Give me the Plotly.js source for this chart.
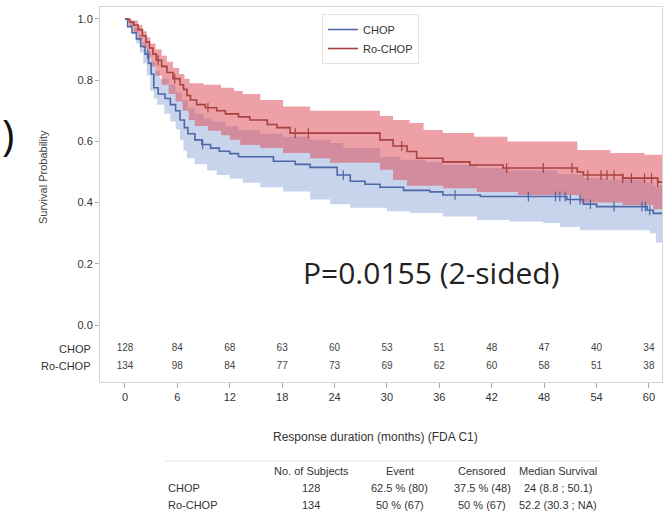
<!DOCTYPE html>
<html>
<head>
<meta charset="utf-8">
<script src="https://cdn.plot.ly/plotly-3.0.1.min.js"></script>
<style>html,body{margin:0;padding:0;background:#fff;}#chart{width:671px;height:518px;}</style>
</head>
<body>
<div id="chart"></div>
<script>
// ---- Data ----
var chopT = [0,0.3,0.8,1.3,1.8,2.3,2.7,3.0,3.3,3.8,4.6,5.2,5.8,6.3,6.8,7.2,8.0,8.8,9.8,10.8,12.0,13.0,17.0,19.5,21.2,24.3,25.8,27.5,29.2,31.9,34.9,36.4,40.7,50.6,52.5,54.0,59.8,60.5,61.5];
var chopS = [1.0,0.975,0.955,0.935,0.91,0.885,0.855,0.82,0.775,0.755,0.74,0.72,0.70,0.67,0.645,0.625,0.605,0.59,0.578,0.568,0.56,0.55,0.535,0.525,0.515,0.49,0.47,0.46,0.45,0.44,0.435,0.425,0.42,0.41,0.395,0.387,0.375,0.365,0.365];

var rchopT = [0,0.5,1.0,1.5,2.0,2.4,2.8,3.2,3.6,4.2,4.8,5.5,6.3,6.7,7.1,7.5,8.2,9.2,10.5,11.5,13.0,14.3,16.3,17.4,18.9,29.2,30.7,32.3,33.4,36.4,39.5,43.3,51.8,52.5,57.0,61.0,61.5];
var rchopS = [1.0,0.99,0.98,0.965,0.945,0.925,0.905,0.885,0.865,0.845,0.825,0.805,0.785,0.77,0.75,0.735,0.72,0.71,0.70,0.69,0.68,0.67,0.655,0.645,0.627,0.605,0.585,0.567,0.545,0.533,0.523,0.513,0.50,0.49,0.48,0.467,0.467];

var chopUpT = [0,0.5,1.0,1.5,2.0,2.5,3.0,3.5,4.0,5.0,5.8,6.5,7.2,8.0,9.0,10.0,11.5,13.0,15.5,18.1,21.2,23.5,25.0,29.2,31.5,34.5,36.4,40.3,44.0,49.5,52.5,55.0,59.5,60.5,61.5];
var chopUpS = [1.0,0.99,0.97,0.95,0.925,0.895,0.86,0.83,0.805,0.785,0.76,0.735,0.71,0.69,0.675,0.665,0.65,0.637,0.625,0.615,0.605,0.595,0.578,0.55,0.54,0.533,0.523,0.513,0.505,0.493,0.48,0.475,0.465,0.455,0.455];
var chopLoT = [0,0.5,0.9,1.3,1.7,2.1,2.5,2.9,3.3,3.7,4.5,5.2,5.8,6.3,6.7,7.1,8.0,9.4,10.5,12.0,13.5,15.5,18.1,21.2,23.5,25.8,30.0,32.6,36.4,40.3,44.0,47.9,49.8,52.1,60.1,60.8,61.5];
var chopLoS = [1.0,0.975,0.95,0.92,0.89,0.855,0.815,0.765,0.74,0.72,0.69,0.665,0.64,0.605,0.57,0.545,0.525,0.505,0.49,0.478,0.465,0.45,0.436,0.41,0.395,0.383,0.372,0.366,0.355,0.343,0.338,0.333,0.32,0.31,0.30,0.27,0.27];

var rchopUpT = [0,0.8,1.5,2.0,2.5,2.9,3.5,4.2,4.8,5.5,6.2,6.8,7.4,9.0,11.0,12.5,13.5,15.5,18.1,21.2,29.2,30.7,32.6,34.2,36.4,40.0,43.8,51.8,55.6,59.5,61.5];
var rchopUpS = [1.0,0.995,0.98,0.96,0.94,0.92,0.90,0.88,0.86,0.84,0.82,0.805,0.79,0.785,0.775,0.765,0.755,0.735,0.714,0.70,0.683,0.67,0.66,0.637,0.627,0.615,0.60,0.572,0.562,0.556,0.556];
var rchopLoT = [0,0.5,1.0,1.5,2.0,2.5,3.0,3.5,4.2,5.0,5.8,6.6,7.3,8.0,9.5,11.0,12.0,13.2,15.5,18.1,21.2,23.5,29.2,30.7,32.3,36.4,40.3,45.0,52.1,57.0,60.5,61.5];
var rchopLoS = [1.0,0.975,0.955,0.93,0.905,0.875,0.845,0.815,0.785,0.755,0.73,0.70,0.67,0.65,0.635,0.62,0.605,0.588,0.578,0.562,0.545,0.53,0.507,0.474,0.455,0.447,0.435,0.425,0.40,0.392,0.378,0.378];

var chopCens = [2.6,8.9,25.0,37.8,46.2,49.3,49.8,50.4,51.0,52.1,53.3,56.0,59.2,59.6,60.1];
var rchopCens = [3.8,5.7,9.5,19.5,21.0,31.7,43.7,47.9,51.2,53.0,54.5,55.2,56.0,57.0,58.0,59.5,60.3,61.0];

var riskTimes = [0,6,12,18,24,30,36,42,48,54,60];
var chopRisk = [128,84,68,63,60,53,51,48,47,40,34];
var rchopRisk = [134,98,84,77,73,69,62,60,58,51,38];

var tableCols = ["No. of Subjects","Event","Censored","Median Survival"];
var tableRowNames = ["CHOP","Ro-CHOP"];
var tableChop = ["128","62.5 % (80)","37.5 % (48)","24 (8.8 ; 50.1)"];
var tableRchop = ["134","50 % (67)","50 % (67)","52.2 (30.3 ; NA)"];

var yTicks = [0,0.2,0.4,0.6,0.8,1.0];
var yTickText = ["0.0","0.2","0.4","0.6","0.8","1.0"];
var xTicks = [0,6,12,18,24,30,36,42,48,54,60];

// ---- helpers ----
function stepAt(T, S, t){ var v = S[0]; for (var i=0;i<T.length;i++){ if (T[i] <= t) v = S[i]; } return v; }
function px(x){ return (x-100)/562; }
function py(y){ return (382-y)/375; }

var blue = '#4d68a6', red = '#a8403f';
var blueFill = 'rgba(110,140,205,0.38)';
var redFill = 'rgba(220,75,85,0.52)';
var narrow = '"Liberation Sans Narrow", "Liberation Sans", Arial, sans-serif';

var traces = [
  {x: chopLoT, y: chopLoS, mode:'lines', line:{shape:'hv', width:0, color:blueFill}, showlegend:false, hoverinfo:'skip'},
  {x: chopUpT, y: chopUpS, mode:'lines', line:{shape:'hv', width:0, color:blueFill}, fill:'tonexty', fillcolor:blueFill, showlegend:false, hoverinfo:'skip'},
  {x: rchopLoT, y: rchopLoS, mode:'lines', line:{shape:'hv', width:0, color:redFill}, showlegend:false, hoverinfo:'skip'},
  {x: rchopUpT, y: rchopUpS, mode:'lines', line:{shape:'hv', width:0, color:redFill}, fill:'tonexty', fillcolor:redFill, showlegend:false, hoverinfo:'skip'},
  {x: chopT, y: chopS, mode:'lines', name:'CHOP', line:{shape:'hv', width:1.6, color:blue}},
  {x: rchopT, y: rchopS, mode:'lines', name:'Ro-CHOP', line:{shape:'hv', width:1.6, color:red}},
  {x: chopCens, y: chopCens.map(function(t){return stepAt(chopT, chopS, t);}), mode:'markers', marker:{symbol:'line-ns', size:7, line:{width:1.2, color:blue}}, showlegend:false, hoverinfo:'skip'},
  {x: rchopCens, y: rchopCens.map(function(t){return stepAt(rchopT, rchopS, t);}), mode:'markers', marker:{symbol:'line-ns', size:7, line:{width:1.2, color:red}}, showlegend:false, hoverinfo:'skip'},
  {x: riskTimes, y: riskTimes.map(function(){return -0.078;}), mode:'text', text: chopRisk.map(String), textfont:{family:narrow, size:10, color:'#444'}, showlegend:false, hoverinfo:'skip'},
  {x: riskTimes, y: riskTimes.map(function(){return -0.134;}), mode:'text', text: rchopRisk.map(String), textfont:{family:narrow, size:10, color:'#444'}, showlegend:false, hoverinfo:'skip'}
];

var ann = [];
ann.push({xref:'paper', yref:'paper', x:px(93), y:py(349), xanchor:'right', yanchor:'middle', text:'CHOP', showarrow:false, font:{family:narrow, size:11, color:'#333'}});
ann.push({xref:'paper', yref:'paper', x:px(93), y:py(366), xanchor:'right', yanchor:'middle', text:'Ro-CHOP', showarrow:false, font:{family:narrow, size:11, color:'#333'}});
ann.push({xref:'paper', yref:'paper', x:px(43), y:py(177), xanchor:'center', yanchor:'middle', textangle:-90, text:'Survival Probability', showarrow:false, font:{family:narrow, size:11, color:'#444'}});
ann.push({xref:'paper', yref:'paper', x:px(375), y:py(437), xanchor:'center', yanchor:'middle', text:'Response duration (months) (FDA C1)', showarrow:false, font:{family:narrow, size:12, color:'#333'}});
ann.push({xref:'paper', yref:'paper', x:px(431), y:py(272), xanchor:'center', yanchor:'middle', text:'P=0.0155 (2-sided)', showarrow:false, font:{family:'"Open Sans", "Noto Sans", sans-serif', size:30, color:'#222'}});
ann.push({xref:'paper', yref:'paper', x:px(0), y:py(133), xanchor:'left', yanchor:'middle', text:')', showarrow:false, font:{family:'"Open Sans", sans-serif', size:42, color:'#111'}});

var colX = [311, 400, 482, 558];
for (var i=0;i<tableCols.length;i++){
  ann.push({xref:'paper', yref:'paper', x:px(colX[i]), y:py(471), xanchor:'center', yanchor:'middle', text:tableCols[i], showarrow:false, font:{family:narrow, size:11, color:'#333'}});
  ann.push({xref:'paper', yref:'paper', x:px(colX[i]), y:py(488), xanchor:'center', yanchor:'middle', text:tableChop[i], showarrow:false, font:{family:narrow, size:11, color:'#333'}});
  ann.push({xref:'paper', yref:'paper', x:px(colX[i]), y:py(505), xanchor:'center', yanchor:'middle', text:tableRchop[i], showarrow:false, font:{family:narrow, size:11, color:'#333'}});
}
ann.push({xref:'paper', yref:'paper', x:px(166), y:py(488), xanchor:'left', yanchor:'middle', text:tableRowNames[0], showarrow:false, font:{family:narrow, size:11, color:'#333'}});
ann.push({xref:'paper', yref:'paper', x:px(166), y:py(505), xanchor:'left', yanchor:'middle', text:tableRowNames[1], showarrow:false, font:{family:narrow, size:11, color:'#333'}});

var layout = {
  width: 671, height: 518,
  margin: {l:100, r:9, t:7, b:136, pad:0},
  paper_bgcolor:'#fff', plot_bgcolor:'#fff',
  showlegend: true,
  legend: {x: px(322), y: py(14), xanchor:'left', yanchor:'top', traceorder:'normal', bgcolor:'#fff', bordercolor:'#e3e3e3', borderwidth:1, font:{family:narrow, size:11, color:'#333'}, tracegroupgap:0},
  xaxis: {range:[-2.86, 61.5], tickvals:xTicks, ticks:'outside', ticklen:5, tickcolor:'#aaa', showgrid:false, zeroline:false, showline:true, mirror:true, linecolor:'#d5d5d5', linewidth:1, tickfont:{family:narrow, size:11, color:'#333'}},
  yaxis: {range:[-0.186, 1.039], tickvals:yTicks, ticktext:yTickText, ticks:'outside', ticklen:4, tickcolor:'#aaa', showgrid:false, zeroline:false, showline:true, mirror:true, linecolor:'#d5d5d5', linewidth:1, tickfont:{family:narrow, size:11, color:'#333'}},
  annotations: ann,
  shapes: [{type:'line', xref:'paper', yref:'paper', x0:px(165), x1:px(600), y0:py(461), y1:py(461), line:{color:'#e6e6e6', width:1}}]
};

Plotly.newPlot('chart', traces, layout, {displayModeBar:false, staticPlot:true});
</script>
</body>
</html>
